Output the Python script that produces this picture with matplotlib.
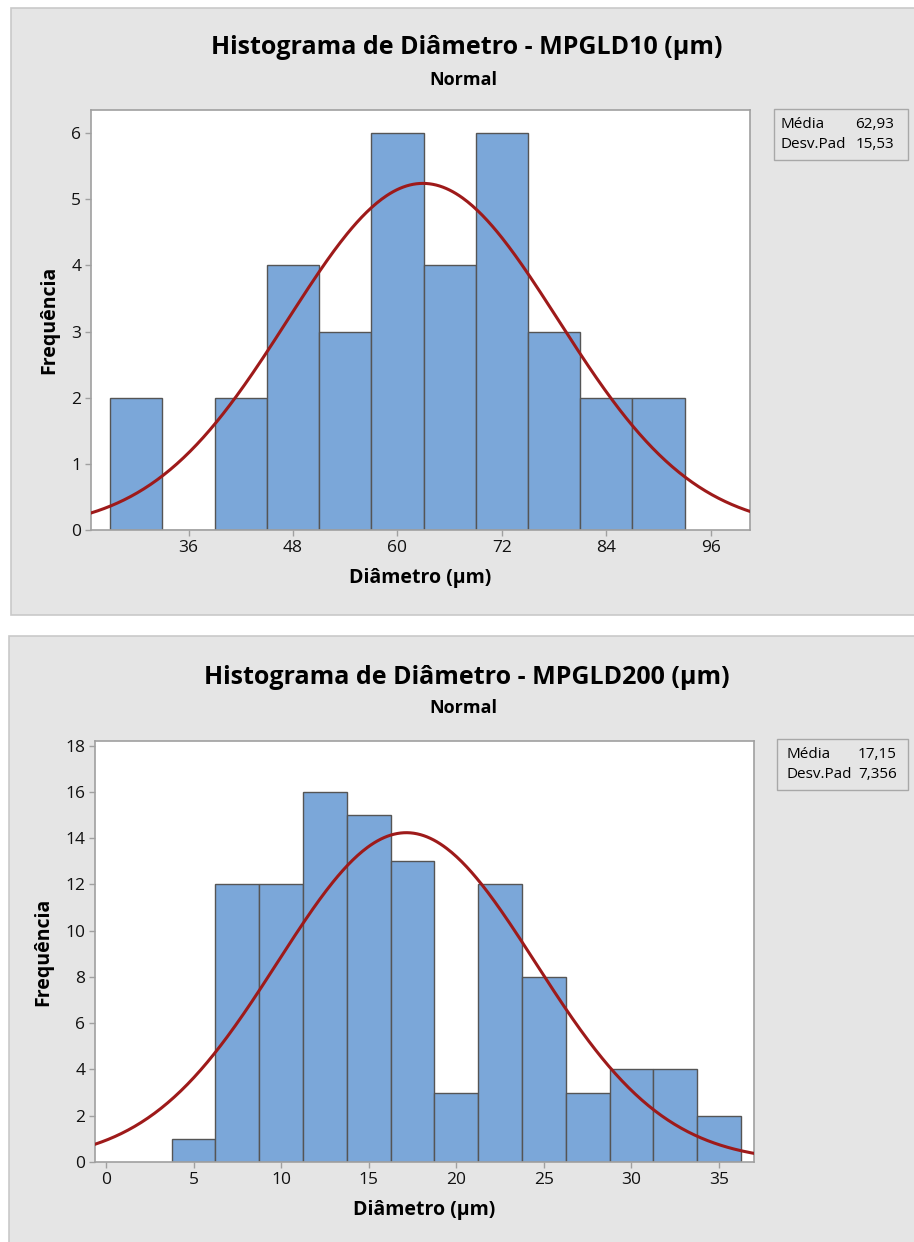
import numpy as np
import matplotlib
matplotlib.use("Agg")
import matplotlib.pyplot as plt
from matplotlib.patches import Rectangle

plt.rcParams['font.family'] = ['Open Sans', 'DejaVu Sans']

# --- data ---
edges_10 = [27, 33, 39, 45, 51, 57, 63, 69, 75, 81, 87, 93]
counts_10 = [2, 0, 2, 4, 3, 6, 4, 6, 3, 2, 2]
mean_10, sd_10 = 62.93, 15.53
ticks_10 = [36, 48, 60, 72, 84, 96]

edges_200 = [3.75, 6.25, 8.75, 11.25, 13.75, 16.25, 18.75, 21.25,
             23.75, 26.25, 28.75, 31.25, 33.75, 36.25]
counts_200 = [1, 12, 12, 16, 15, 13, 3, 12, 8, 3, 4, 4, 2]
mean_200, sd_200 = 17.15, 7.356
ticks_200 = [0, 5, 10, 15, 20, 25, 30, 35]

W, H = 914, 1242
fig = plt.figure(figsize=(W / 100, H / 100), dpi=100)
fig.patch.set_facecolor('white')

BG = '#e5e5e5'
BORDER = '#c9c9c9'
BAR = '#7ba7d9'
BAR_EDGE = '#555555'
CURVE = '#9e1a1a'
SPINE = '#a0a0a0'


def fx(x):
    return x / W


def fy(y):
    return 1 - y / H


def panel(l, t, r, b):
    fig.patches.append(Rectangle((fx(l), fy(b)), fx(r - l), (b - t) / H,
                                 transform=fig.transFigure, facecolor=BG,
                                 edgecolor=BORDER, linewidth=1.2, zorder=-2))


def px_axes(l, t, r, b):
    ax = fig.add_axes([fx(l), fy(b), fx(r - l), (b - t) / H])
    ax.set_zorder(2)
    return ax


def hist_panel(ax, edges, counts, mean, sd, ticks, xlim, ylim, yticks):
    edges = np.asarray(edges, dtype=float)
    counts = np.asarray(counts, dtype=float)
    ax.bar(edges[:-1], counts, width=np.diff(edges), align='edge',
           color=BAR, edgecolor=BAR_EDGE, linewidth=1.0, zorder=2)
    # fitted normal curve, scaled to counts
    n = counts.sum()
    bw = edges[1] - edges[0]
    xs = np.linspace(xlim[0], xlim[1], 400)
    ys = n * bw * np.exp(-0.5 * ((xs - mean) / sd) ** 2) / (sd * np.sqrt(2 * np.pi))
    ax.plot(xs, ys, color=CURVE, lw=2.2, zorder=3, clip_on=True)
    ax.set_xlim(xlim)
    ax.set_ylim(ylim)
    ax.set_xticks(ticks)
    ax.set_yticks(yticks)
    ax.set_facecolor('white')
    for s in ax.spines.values():
        s.set_color(SPINE)
        s.set_linewidth(1.2)
    ax.tick_params(direction='out', length=4, width=1, color=SPINE,
                   labelsize=12.5, labelcolor='#111111', pad=3)
    ax.set_xlabel('Diâmetro (µm)', fontsize=14, fontweight='bold',
                  labelpad=9)
    ax.set_ylabel('Frequência', fontsize=14, fontweight='bold',
                  labelpad=9)


# top panel
panel(11, 8, 930, 615)
ax1 = px_axes(91, 110, 750, 530)
hist_panel(ax1, edges_10, counts_10, mean_10, sd_10, ticks_10,
           (24.8, 100.5), (0, 6.35), range(0, 7))
fig.text(fx(467), fy(48), 'Histograma de Diâmetro - MPGLD10 (µm)',
         ha='center', va='center', fontsize=18, fontweight='bold')
fig.text(fx(463), fy(80), 'Normal', ha='center', va='center',
         fontsize=13, fontweight='bold')
fig.patches.append(Rectangle((fx(774), fy(160)), fx(134), 51 / H,
                             transform=fig.transFigure, facecolor=BG,
                             edgecolor='#a8a8a8', linewidth=1.0, zorder=-1))
fig.text(fx(781), fy(124), 'Média', ha='left', va='center', fontsize=11)
fig.text(fx(894), fy(124), '62,93', ha='right', va='center', fontsize=11)
fig.text(fx(781), fy(144), 'Desv.Pad', ha='left', va='center', fontsize=11)
fig.text(fx(894), fy(144), '15,53', ha='right', va='center', fontsize=11)

# bottom panel
panel(9, 636, 930, 1260)
ax2 = px_axes(95, 741, 754, 1162)
hist_panel(ax2, edges_200, counts_200, mean_200, sd_200, ticks_200,
           (-0.63, 37.0), (0, 18.2), range(0, 19, 2))
fig.text(fx(467), fy(677), 'Histograma de Diâmetro - MPGLD200 (µm)',
         ha='center', va='center', fontsize=18, fontweight='bold')
fig.text(fx(463), fy(708), 'Normal', ha='center', va='center',
         fontsize=13, fontweight='bold')
fig.patches.append(Rectangle((fx(777), fy(790)), fx(131), 51 / H,
                             transform=fig.transFigure, facecolor=BG,
                             edgecolor='#a8a8a8', linewidth=1.0, zorder=-1))
fig.text(fx(786), fy(755), 'Média', ha='left', va='center', fontsize=11)
fig.text(fx(897), fy(755), '17,15', ha='right', va='center', fontsize=11)
fig.text(fx(786), fy(775), 'Desv.Pad', ha='left', va='center', fontsize=11)
fig.text(fx(897), fy(775), '7,356', ha='right', va='center', fontsize=11)

fig.savefig('out.png', dpi=100)
